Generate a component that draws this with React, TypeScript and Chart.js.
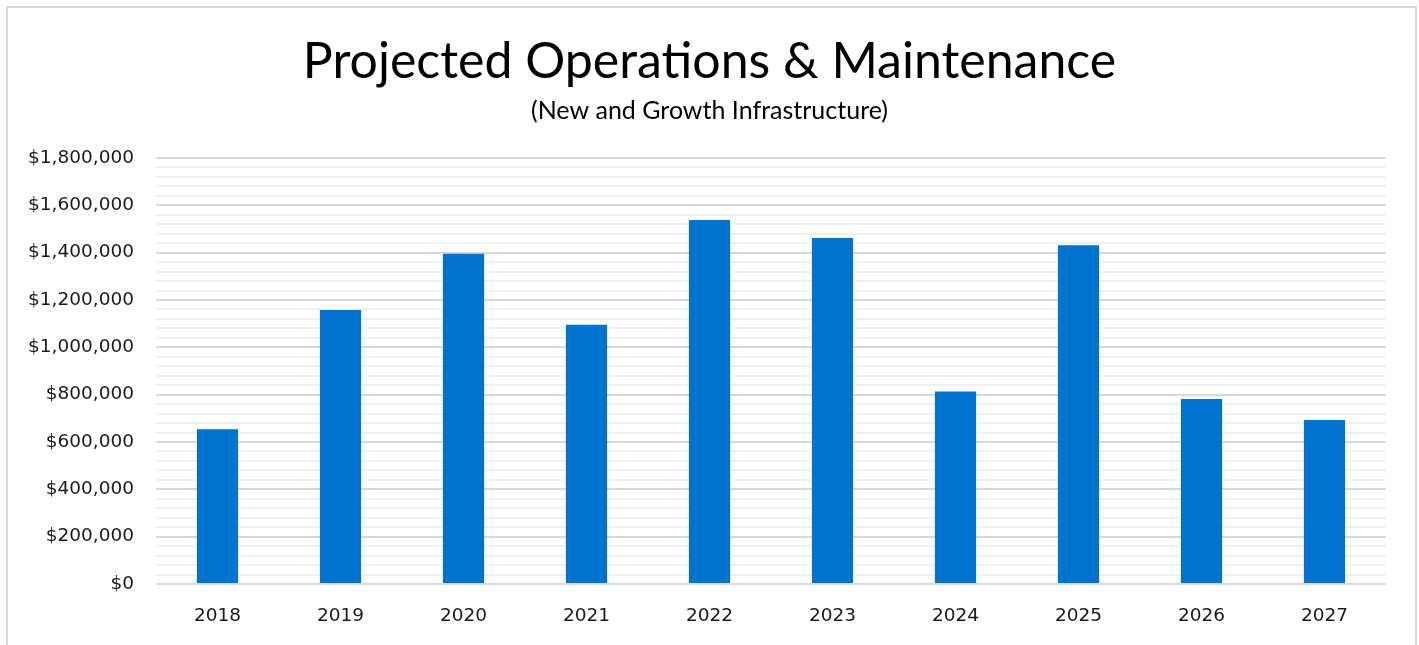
import React, { useEffect, useRef } from 'react';
import { Chart, registerables } from 'chart.js';

Chart.register(...registerables);

const categories = ['2018', '2019', '2020', '2021', '2022', '2023', '2024', '2025', '2026', '2027'];
const values = [654000, 1158000, 1395000, 1095000, 1538000, 1462000, 813000, 1431000, 782000, 693000];
const titleText = 'Projected Operations & Maintenance';
const subtitleText = '(New and Growth Infrastructure)';
const yMin = 0;
const yMax = 1800000;
const minorStep = 40000;
const majorStep = 200000;

const TITLE_FONT = 'Lato, "Open Sans", sans-serif';
const TICK_FONT = '"DejaVu Sans", "Open Sans", sans-serif';

export default function App() {
  const canvasRef = useRef<HTMLCanvasElement | null>(null);

  useEffect(() => {
    if (!canvasRef.current) return;
    const chart = new Chart(canvasRef.current, {
      type: 'bar',
      data: {
        labels: categories,
        datasets: [
          {
            label: 'O&M',
            data: values,
            backgroundColor: '#0073CF',
            borderWidth: 0,
            categoryPercentage: 1,
            barPercentage: 0.335,
            yAxisID: 'y',
          },
        ],
      },
      options: {
        animation: false,
        responsive: true,
        maintainAspectRatio: false,
        layout: { padding: { left: 0, right: 0, top: 32, bottom: 0 } },
        plugins: {
          legend: { display: false },
          tooltip: { enabled: false },
          title: {
            display: true,
            text: titleText,
            color: '#000000',
            font: { family: TITLE_FONT, size: 50, weight: 'normal' },
            padding: { top: 0, bottom: 3.5 },
          },
          subtitle: {
            display: true,
            text: subtitleText,
            color: '#000000',
            font: { family: TITLE_FONT, size: 25, weight: 'normal' },
            padding: { top: 0, bottom: 32.5 },
          },
        },
        scales: {
          x: {
            afterFit: (scale: any) => {
              scale.height = 61;
            },
            grid: { display: false, drawTicks: false },
            border: { display: false },
            ticks: {
              color: '#1a1a1a',
              font: { family: TICK_FONT, size: 18.5 },
              padding: 21,
              maxRotation: 0,
            },
          },
          y: {
            min: yMin,
            max: yMax,
            afterFit: (scale: any) => {
              scale.width = 156;
            },
            border: { display: false },
            grid: {
              drawTicks: false,
              color: (ctx: any) =>
                ctx.tick && ctx.tick.value % majorStep === 0 ? '#d9d9d9' : '#f0f0f0',
              lineWidth: 2,
            },
            ticks: {
              stepSize: minorStep,
              autoSkip: false,
              padding: 22,
              color: '#1a1a1a',
              font: { family: TICK_FONT, size: 18.5 },
              callback: (v: any) =>
                Number(v) % majorStep === 0 ? '$' + Number(v).toLocaleString('en-US') : '',
            },
          },
          yRight: {
            type: 'linear',
            position: 'right',
            min: yMin,
            max: yMax,
            afterFit: (scale: any) => {
              scale.width = 33;
            },
            border: { display: false },
            grid: { display: false, drawTicks: false },
            ticks: { display: false },
          },
        },
      },
    });
    return () => chart.destroy();
  }, []);

  return (
    <div
      style={{
        position: 'fixed',
        left: 0,
        top: 0,
        width: 1419,
        height: 645,
        overflow: 'hidden',
        background: '#ffffff',
      }}
    >
      <div
        style={{
          position: 'absolute',
          left: 6,
          top: 6,
          width: 1411,
          height: 700,
          border: '2px solid #d9d9d9',
          boxSizing: 'border-box',
        }}
      />
      <div style={{ position: 'absolute', left: 0, top: 0, width: 1419, height: 645 }}>
        <canvas ref={canvasRef} />
      </div>
    </div>
  );
}
